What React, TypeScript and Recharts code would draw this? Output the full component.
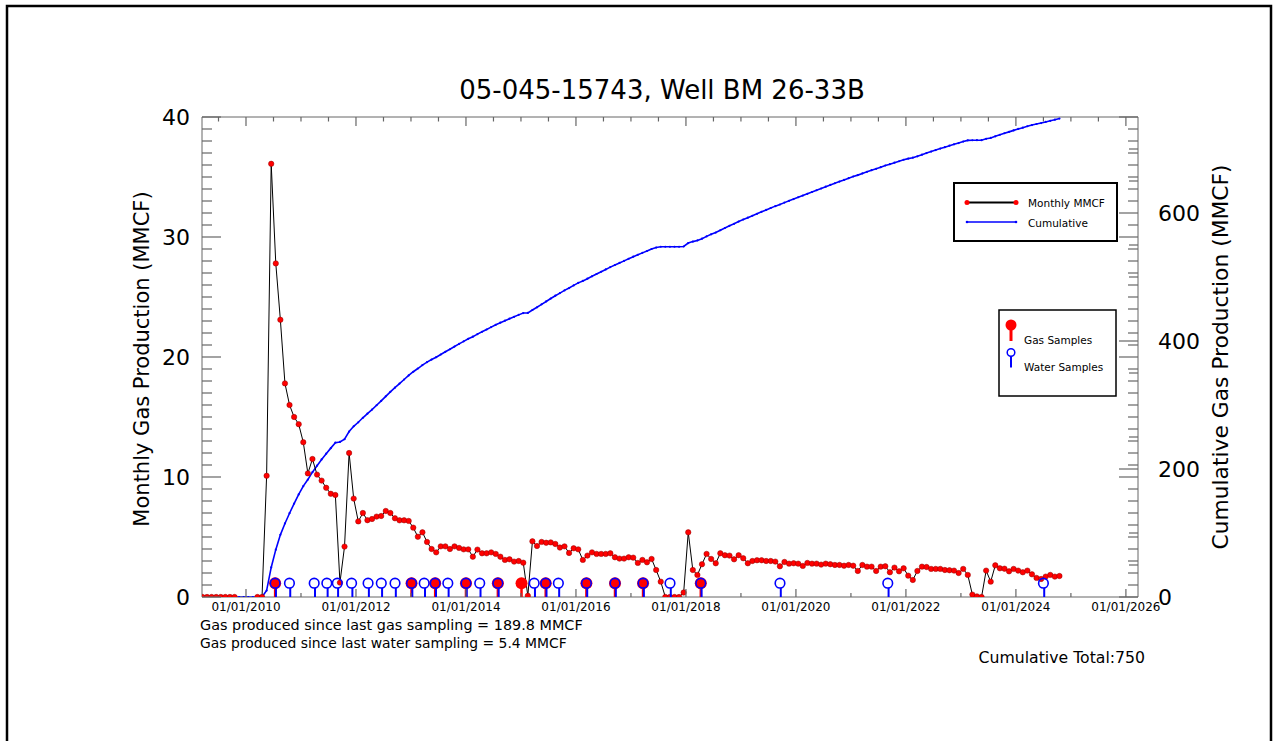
import React from "react";
import { ComposedChart, Line, Scatter, XAxis, YAxis } from "recharts";

const FONT = "'DejaVu Sans', Verdana, sans-serif";
const AXIS_GRAY = "#666666";

const TITLE = "05-045-15743, Well BM 26-33B";
const LEFT_LABEL = "Monthly Gas Production (MMCF)";
const RIGHT_LABEL = "Cumulative Gas Production (MMCF)";
const NOTE_GAS = "Gas produced since last gas sampling = 189.8 MMCF";
const NOTE_WATER = "Gas produced since last water sampling = 5.4 MMCF";
const TOTAL_NOTE = "Cumulative Total:750";

// First reported month: March 2009
const START_YEAR = 2009;
const START_MONTH = 3;

// Monthly gas production (MMCF), one value per month from Mar 2009 to Oct 2024
const monthlyMMCF: (number | null)[] = [
  // 2009 Mar–Oct
  0, 0, 0, 0, 0, 0, 0, 0,
  // Nov 2009 – Feb 2010 (no report)
  null, null, null, null,
  // 2010 Mar–Dec
  0, 0, 10.1, 36.1, 27.8, 23.1, 17.8, 16.0, 15.0, 14.4,
  // 2011
  12.9, 10.3, 11.5, 10.2, 9.7, 9.1, 8.6, 8.5, 1.2, 4.2, 12.0, 8.2,
  // 2012
  6.3, 7.0, 6.4, 6.5, 6.7, 6.75, 7.17, 7.0, 6.56, 6.39, 6.39, 6.34,
  // 2013
  5.78, 5.02, 5.39, 4.59, 4.0, 3.72, 4.22, 4.22, 4.0, 4.22, 4.09, 3.97,
  // 2014
  3.97, 3.36, 3.95, 3.64, 3.64, 3.72, 3.59, 3.36, 3.09, 3.14, 2.95, 3.0,
  // 2015
  2.86, 0.1, 4.64, 4.25, 4.59, 4.52, 4.55, 4.42, 4.12, 4.22, 3.67, 4.06,
  // 2016
  3.97, 3.09, 3.45, 3.72, 3.59, 3.59, 3.59, 3.64, 3.31, 3.2, 3.2, 3.31,
  // 2017
  3.28, 2.84, 3.09, 2.89, 3.17, 2.25, 1.28, 0, 0, 0, 0, 0.37,
  // 2018
  5.39, 2.25, 1.84, 2.73, 3.59, 3.17, 2.81, 3.64, 3.48, 3.45, 3.14, 3.48,
  // 2019
  3.23, 2.81, 3.0, 3.06, 3.06, 3.0, 3.0, 2.95, 2.56, 2.92, 2.78, 2.81,
  // 2020
  2.78, 2.59, 2.84, 2.78, 2.78, 2.7, 2.78, 2.73, 2.67, 2.67, 2.61, 2.67,
  // 2021
  2.61, 2.17, 2.67, 2.53, 2.53, 2.17, 2.53, 2.56, 2.06, 2.45, 2.14, 2.39,
  // 2022
  1.78, 1.42, 2.17, 2.53, 2.5, 2.34, 2.34, 2.34, 2.25, 2.23, 2.2, 2.0,
  // 2023
  2.34, 1.84, 0.2, 0.05, 0, 2.2, 1.28, 2.64, 2.39, 2.36, 2.14, 2.34,
  // 2024 Jan–Oct
  2.2, 2.06, 2.2, 1.89, 1.59, 1.5, 1.7, 1.84, 1.7, 1.75,
];

// Sampling dates (decimal years)
const gasSampleYears = [
  2010.53, 2013.01, 2013.44, 2014.0, 2014.58, 2015.01, 2015.45, 2016.19,
  2016.71, 2017.22, 2018.27,
];
const waterSampleYears = [
  2010.53, 2010.79, 2011.24, 2011.47, 2011.66, 2011.92, 2012.22, 2012.46,
  2012.71, 2013.01, 2013.24, 2013.44, 2013.67, 2014.0, 2014.25, 2014.58,
  2015.24, 2015.45, 2015.68, 2016.19, 2016.71, 2017.22, 2017.71, 2018.27,
  2019.71, 2021.67, 2024.5,
];
const SAMPLE_LEVEL = 1.15;

// Axis ranges and ticks
const X_DOMAIN = [2009.2, 2026.22];
const LEFT_MAX = 40;
const RIGHT_MAX = 750;
const bottomTicks = [2010, 2011, 2012, 2013, 2014, 2015, 2016, 2017, 2018, 2019, 2020, 2021, 2022, 2023, 2024, 2025, 2026];
const topTicks = Array.from({ length: 34 }, (_, i) => 2009.5 + i * 0.5);
const leftTicks = Array.from({ length: 41 }, (_, i) => i);
const leftLabelTicks = [0, 10, 20, 30, 40];
const rightOwnTicks = Array.from({ length: 16 }, (_, i) => i * 50);
const rightLabelTicks = [0, 200, 400, 600];
// left-axis ticks repeated on the right frame (expressed in right-axis units)
const LEFT_TO_RIGHT = RIGHT_MAX / LEFT_MAX;
const rightMirrorTicks = leftTicks.map((v) => v * LEFT_TO_RIGHT);
const rightTicks = Array.from(new Set([...rightOwnTicks, ...rightMirrorTicks])).sort((a, b) => a - b);

let running = 0;
const rows = monthlyMMCF.map((v, i) => {
  if (v != null) running += v;
  return {
    t: START_YEAR + (START_MONTH - 1 + i + 0.5) / 12,
    monthly: v,
    cum: running,
  };
});
const gasData = gasSampleYears.map((t) => ({ t, level: SAMPLE_LEVEL }));
const waterData = waterSampleYears.map((t) => ({ t, level: SAMPLE_LEVEL }));

const fmtDate = (y: number) => `01/01/${y}`;

const BottomTick = (p: any) => {
  const v = p.payload.value;
  const even = v % 2 === 0;
  return (
    <g>
      <line x1={p.x} x2={p.x} y1={p.y} y2={p.y - (even ? 8 : 4)} stroke={AXIS_GRAY} strokeWidth={1.2} />
      {even && (
        <text x={p.x} y={p.y + 13.5} textAnchor="middle" fontSize={12} fontFamily={FONT} fill="#000">
          {fmtDate(v)}
        </text>
      )}
    </g>
  );
};

const TopTick = (p: any) => {
  const v = p.payload.value;
  const major = Number.isInteger(v) && v % 2 === 0;
  return <line x1={p.x} x2={p.x} y1={p.y} y2={p.y + (major ? 9 : 4.5)} stroke={AXIS_GRAY} strokeWidth={1.2} />;
};

const LeftTick = (p: any) => {
  const v = p.payload.value;
  const major = leftLabelTicks.includes(v);
  return (
    <g>
      <line x1={p.x} x2={p.x + (major ? 19 : 10)} y1={p.y} y2={p.y} stroke={AXIS_GRAY} strokeWidth={1.2} />
      {major && (
        <text x={p.x - 12} y={p.y} dy="0.36em" textAnchor="end" fontSize={22} fontFamily={FONT} fill="#000">
          {v}
        </text>
      )}
    </g>
  );
};

const RightTick = (p: any) => {
  const v = p.payload.value;
  const labelled = rightLabelTicks.includes(v);
  const own = v % 50 === 0;
  const mirrorIdx = v / LEFT_TO_RIGHT;
  const mirror = Number.isInteger(mirrorIdx);
  let len = 0;
  if (own) len = Math.max(len, labelled ? 19 : 9);
  if (mirror) len = Math.max(len, mirrorIdx % 10 === 0 ? 19 : 10);
  return (
    <g>
      <line x1={p.x} x2={p.x - len} y1={p.y} y2={p.y} stroke={AXIS_GRAY} strokeWidth={1.2} />
      {labelled && (
        <text x={p.x + 20} y={p.y} dy="0.36em" textAnchor="start" fontSize={22} fontFamily={FONT} fill="#000">
          {v}
        </text>
      )}
    </g>
  );
};

const STEM = 14;
const GasShape = (p: any) => (
  <g>
    <line x1={p.cx} x2={p.cx} y1={p.cy} y2={p.cy + STEM} stroke="#ff0000" strokeWidth={2.5} />
    <circle cx={p.cx} cy={p.cy} r={6} fill="#ff0000" />
  </g>
);
const WaterShape = (p: any) => (
  <g>
    <line x1={p.cx + 0.8} x2={p.cx + 0.8} y1={p.cy + 4.8} y2={p.cy + STEM} stroke="#0000ff" strokeWidth={2} />
    <circle cx={p.cx} cy={p.cy} r={4.8} fill="none" stroke="#0000ff" strokeWidth={1.6} />
  </g>
);

export default function App() {
  return (
    <div style={{ position: "absolute", left: 0, top: 0, width: 1274, height: 741, background: "#fff", fontFamily: FONT }}>
      <ComposedChart
        width={1274}
        height={741}
        data={rows}
        margin={{ top: 116, right: 76, bottom: 114, left: 142 }}
      >
        <XAxis
          xAxisId="main"
          dataKey="t"
          type="number"
          domain={X_DOMAIN}
          allowDataOverflow
          ticks={bottomTicks}
          interval={0}
          tickSize={0}
          tickMargin={0}
          height={30}
          axisLine={{ stroke: AXIS_GRAY }}
          tickLine={false}
          tick={BottomTick}
        />
        <XAxis
          xAxisId="top"
          orientation="top"
          dataKey="t"
          type="number"
          domain={X_DOMAIN}
          allowDataOverflow
          ticks={topTicks}
          interval={0}
          tickSize={0}
          tickMargin={0}
          height={1}
          axisLine={{ stroke: AXIS_GRAY }}
          tickLine={false}
          tick={TopTick}
        />
        <YAxis
          yAxisId="left"
          type="number"
          domain={[0, LEFT_MAX]}
          allowDataOverflow
          ticks={leftTicks}
          interval={0}
          tickSize={0}
          tickMargin={0}
          width={60}
          axisLine={{ stroke: AXIS_GRAY }}
          tickLine={false}
          tick={LeftTick}
        />
        <YAxis
          yAxisId="right"
          orientation="right"
          type="number"
          domain={[0, RIGHT_MAX]}
          allowDataOverflow
          ticks={rightTicks}
          interval={0}
          tickSize={0}
          tickMargin={0}
          width={60}
          axisLine={{ stroke: AXIS_GRAY }}
          tickLine={false}
          tick={RightTick}
        />
        <YAxis yAxisId="samples" dataKey="level" type="number" domain={[0, LEFT_MAX]} allowDataOverflow hide />
        <Line
          xAxisId="main"
          yAxisId="right"
          dataKey="cum"
          stroke="#0000ff"
          strokeWidth={1.6}
          dot={{ r: 1.1, fill: "#0000ff", stroke: "none" }}
          isAnimationActive={false}
        />
        <Line
          xAxisId="main"
          yAxisId="left"
          dataKey="monthly"
          stroke="#000"
          strokeWidth={1}
          dot={{ r: 2.7, fill: "#ff0000", stroke: "#900000", strokeWidth: 0.5 }}
          isAnimationActive={false}
        />
        <Scatter xAxisId="main" yAxisId="samples" data={gasData} dataKey="level" shape={GasShape} isAnimationActive={false} />
        <Scatter xAxisId="main" yAxisId="samples" data={waterData} dataKey="level" shape={WaterShape} isAnimationActive={false} />
      </ComposedChart>

      <svg width={1274} height={741} style={{ position: "absolute", left: 0, top: 0, pointerEvents: "none" }}>
        <path d="M7,741 L7,6 L1271,6 L1271,741" fill="none" stroke="#000" strokeWidth={2.5} />
        <text x={662} y={99} textAnchor="middle" fontSize={26} fontFamily={FONT} fill="#000">{TITLE}</text>
        <text transform="translate(142,359) rotate(-90)" textAnchor="middle" dominantBaseline="central" fontSize={21} fontFamily={FONT} fill="#000">
          {LEFT_LABEL}
        </text>
        <text transform="translate(1220,357) rotate(-90)" textAnchor="middle" dominantBaseline="central" fontSize={21.8} fontFamily={FONT} fill="#000">
          {RIGHT_LABEL}
        </text>
        <text x={200} y={629.5} fontSize={14.4} fontFamily={FONT} fill="#000">{NOTE_GAS}</text>
        <text x={200} y={648} fontSize={13.9} fontFamily={FONT} fill="#000">{NOTE_WATER}</text>
        <text x={1145} y={662.5} textAnchor="end" fontSize={15.7} fontFamily={FONT} fill="#000">{TOTAL_NOTE}</text>

        {/* Series legend */}
        <rect x={954} y={183} width={163} height={58} fill="#fff" stroke="#000" strokeWidth={2} />
        <line x1={967} x2={1016} y1={202.5} y2={202.5} stroke="#000" strokeWidth={2} />
        <circle cx={967} cy={202.5} r={2.5} fill="#ff0000" />
        <circle cx={1016} cy={202.5} r={2.5} fill="#ff0000" />
        <text x={1028} y={206.5} fontSize={10.5} fontFamily={FONT} fill="#000">Monthly MMCF</text>
        <line x1={967} x2={1016} y1={222} y2={222} stroke="#0000ff" strokeWidth={1.5} />
        <circle cx={967} cy={222} r={1.3} fill="#0000ff" />
        <circle cx={1016} cy={222} r={1.3} fill="#0000ff" />
        <text x={1028} y={226.5} fontSize={10.5} fontFamily={FONT} fill="#000">Cumulative</text>

        {/* Samples legend */}
        <rect x={999} y={310} width={117} height={86} fill="#fff" stroke="#000" strokeWidth={1.5} />
        <line x1={1011} x2={1011} y1={325} y2={341} stroke="#ff0000" strokeWidth={3} />
        <circle cx={1011} cy={325} r={5.5} fill="#ff0000" />
        <text x={1024} y={344} fontSize={10.5} fontFamily={FONT} fill="#000">Gas Samples</text>
        <line x1={1011} x2={1011} y1={356} y2={367.5} stroke="#0000ff" strokeWidth={2} />
        <circle cx={1011} cy={352.5} r={3.8} fill="#fff" stroke="#0000ff" strokeWidth={1.5} />
        <text x={1024} y={370.5} fontSize={10.5} fontFamily={FONT} fill="#000">Water Samples</text>
      </svg>
    </div>
  );
}
